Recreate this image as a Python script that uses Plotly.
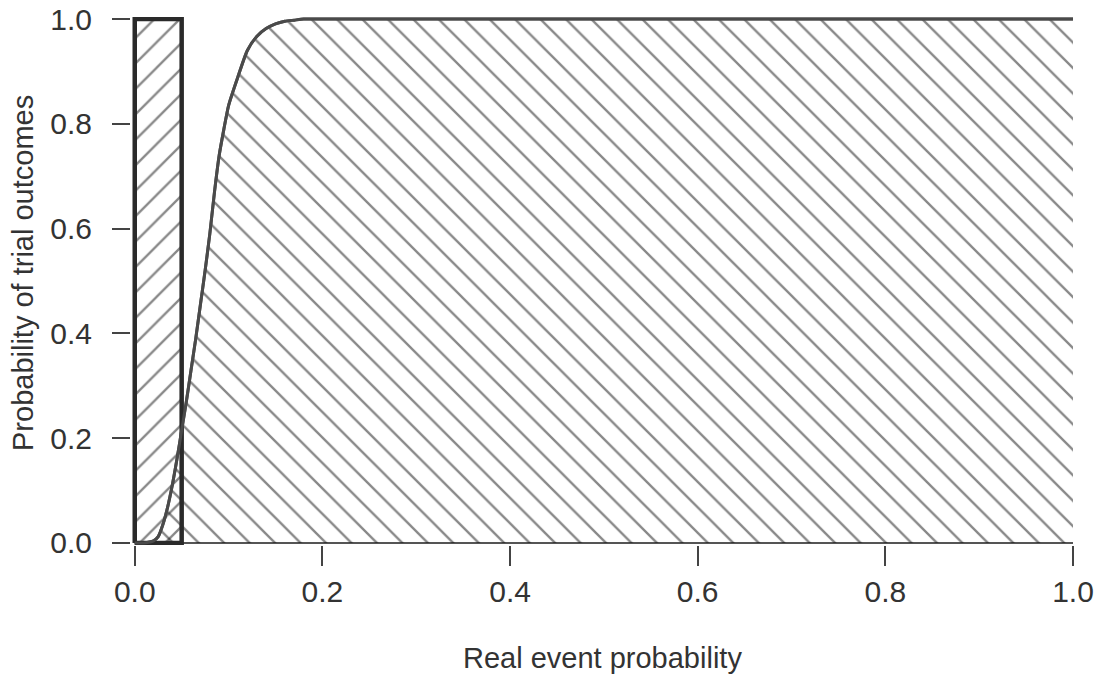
import plotly.graph_objects as go

# curve
curve_x = [0.0, 0.01, 0.02, 0.025, 0.03, 0.035, 0.04, 0.045, 0.05, 0.055, 0.06,
           0.065, 0.07, 0.075, 0.08, 0.085, 0.09, 0.095, 0.10, 0.11, 0.12,
           0.13, 0.14, 0.15, 0.16, 0.17, 0.18, 0.2, 1.0]
curve_y = [0.0, 0.0, 0.004, 0.012, 0.035, 0.068, 0.11, 0.16, 0.215, 0.27, 0.33,
           0.39, 0.455, 0.52, 0.59, 0.67, 0.74, 0.79, 0.835, 0.89, 0.94,
           0.967, 0.982, 0.991, 0.996, 0.998, 1.0, 1.0, 1.0]

# rectangle for the null region
box_x = [0.0, 0.0, 0.05, 0.05, 0.0]
box_y = [0.0, 1.0, 1.0, 0.0, 0.0]

ticks = [0.0, 0.2, 0.4, 0.6, 0.8, 1.0]
tick_text = ["0.0", "0.2", "0.4", "0.6", "0.8", "1.0"]

pad = 0.004
ink = "#333333"

fig = go.Figure()

fig.add_trace(
    go.Scatter(
        x=curve_x,
        y=curve_y,
        mode="lines",
        fill="tozeroy",
        fillcolor="rgba(0,0,0,0)",
        fillpattern=dict(shape="\\", size=18, solidity=0.13,
                         fgcolor="#111111", bgcolor="rgba(0,0,0,0)"),
        line=dict(color="#555555", width=3, shape="spline", smoothing=0.6),
        showlegend=False,
    )
)

fig.add_trace(
    go.Scatter(
        x=box_x,
        y=box_y,
        mode="lines",
        fill="toself",
        fillcolor="rgba(0,0,0,0)",
        fillpattern=dict(shape="/", size=18, solidity=0.13,
                         fgcolor="#111111", bgcolor="rgba(0,0,0,0)"),
        line=dict(color="#2a2a2a", width=4.5),
        showlegend=False,
    )
)

# curve line redrawn on top of the box edge
fig.add_trace(
    go.Scatter(
        x=curve_x,
        y=curve_y,
        mode="lines",
        line=dict(color="#4a4a4a", width=3, shape="spline", smoothing=0.6),
        showlegend=False,
    )
)

# x axis line spanning 0..1 like base R
fig.add_shape(type="line", x0=0, x1=1, y0=0, y1=0, xref="x", yref="y",
              line=dict(color="#555555", width=2), layer="below")

tick_font = dict(family="Liberation Sans, Arial, sans-serif", size=30, color=ink)
title_font = dict(family="Liberation Sans, Arial, sans-serif", size=29, color=ink)

fig.update_xaxes(
    range=[-pad, 1.0],
    tickvals=ticks,
    ticktext=tick_text,
    ticks="outside",
    ticklen=20,
    tickwidth=2,
    tickcolor="#444444",
    showline=False,
    showgrid=False,
    zeroline=False,
    tickfont=tick_font,
    automargin=False,
)
fig.update_yaxes(
    range=[-pad, 1.0 + pad],
    tickvals=ticks,
    ticktext=tick_text,
    ticks="outside",
    ticklen=18,
    tickwidth=2,
    tickcolor="#444444",
    showline=False,
    showgrid=False,
    zeroline=False,
    tickfont=tick_font,
    ticklabelstandoff=14,
    automargin=False,
)

fig.add_annotation(text="Real event probability", xref="paper", yref="paper",
                   x=0.5, y=0, xanchor="center", yanchor="middle",
                   yshift=-113, showarrow=False, font=title_font)
fig.add_annotation(text="Probability of trial outcomes", xref="paper", yref="paper",
                   x=0, y=0.5, xanchor="center", yanchor="middle", textangle=-90,
                   xshift=-108, yshift=8, showarrow=False, font=title_font)

fig.update_layout(
    width=1097,
    height=677,
    margin=dict(l=131, r=24, t=17, b=132),
    plot_bgcolor="white",
    paper_bgcolor="white",
)

# drop the browser's default 8px body margin so the figure sits at 0,0
fig.write_html("out.html", config={"displayModeBar": False},
               post_script="document.body.style.margin='0';")
